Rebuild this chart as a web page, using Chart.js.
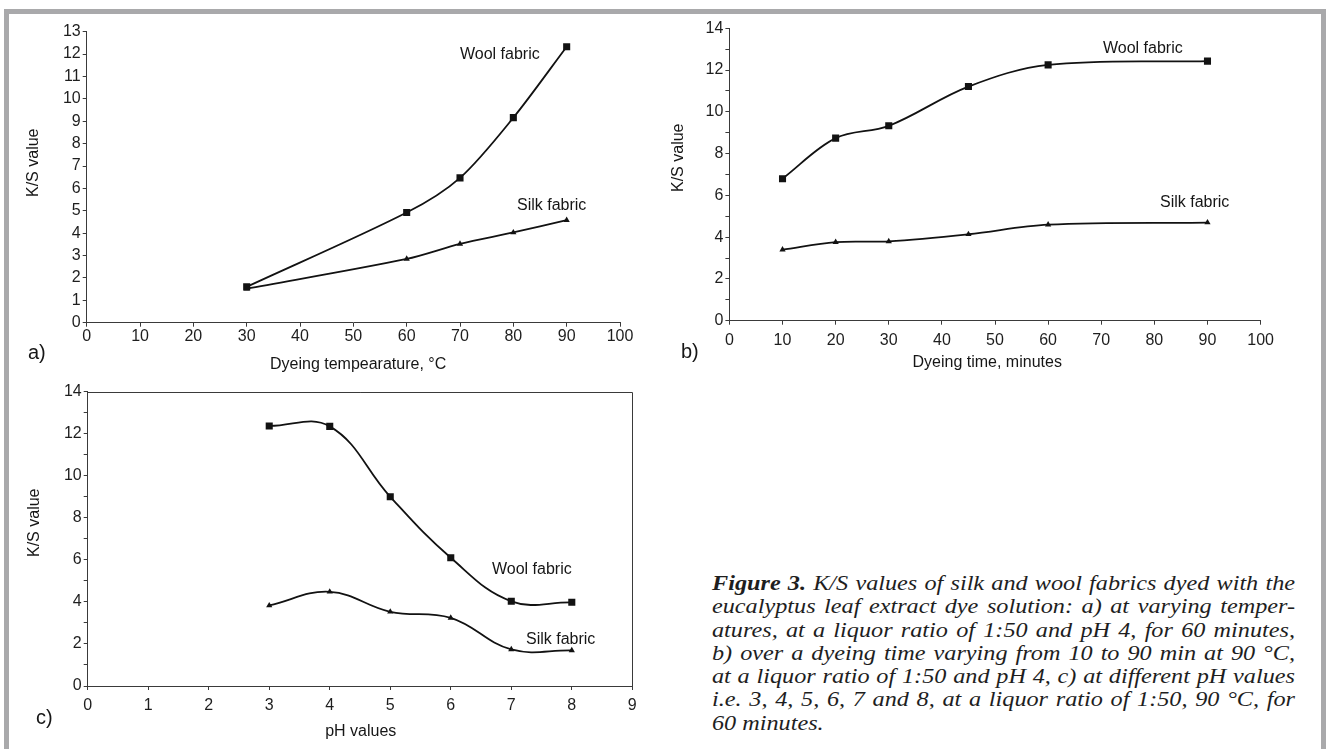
<!DOCTYPE html>
<html><head><meta charset="utf-8">
<script src="https://cdn.jsdelivr.net/npm/chart.js@4.4.1/dist/chart.umd.min.js"></script>
<style>
html,body{margin:0;padding:0;background:#fff;width:1326px;height:749px;overflow:hidden;position:relative;font-family:"Liberation Sans",Arial,sans-serif;color:#161616}
.frame{position:absolute;left:4px;top:9px;width:1312px;height:760px;border:5px solid #a9a9ab;border-bottom:none;}
canvas{position:absolute}
.t{position:absolute;white-space:nowrap;line-height:1;}
.rot{transform-origin:0 0;transform:rotate(-90deg);}
#cap{position:absolute;left:712px;top:572px;width:583px;font-family:"Liberation Serif","Times New Roman",serif;font-style:italic;font-size:20.5px;line-height:23.3px;color:#1e1e1e;transform-origin:0 0}
#cap div{text-align:justify;text-align-last:justify;white-space:nowrap}
#cap div.last{text-align-last:left}
#meas{position:absolute;left:0;top:0;visibility:hidden;font-family:"Liberation Serif","Times New Roman",serif;font-style:italic;font-size:20.5px;white-space:nowrap}
</style></head>
<body>
<div class="frame"></div>
<canvas id="ca" width="660" height="375" style="left:0;top:0;width:660px;height:375px"></canvas>
<canvas id="cb" width="666" height="375" style="left:660px;top:0;width:666px;height:375px"></canvas>
<canvas id="cc" width="660" height="374" style="left:0;top:375px;width:660px;height:374px"></canvas>
<div id="cap">
<div><b>Figure 3.</b> K/S values of silk and wool fabrics dyed with the</div>
<div>eucalyptus leaf extract dye solution: a) at varying temper-</div>
<div>atures, at a liquor ratio of 1:50 and pH 4, for 60 minutes,</div>
<div>b) over a dyeing time varying from 10 to 90 min at 90 °C,</div>
<div>at a liquor ratio of 1:50 and pH 4, c) at different pH values</div>
<div>i.e. 3, 4, 5, 6, 7 and 8, at a liquor ratio of 1:50, 90 °C, for</div>
<div class="last">60 minutes.</div>
</div>
<span id="meas"></span>
<script>
// ---- data ----
const tempX    = [30, 60, 70, 80, 90];
const tempWool = [1.6, 4.92, 6.47, 9.16, 12.33];
const tempSilk = [1.52, 2.85, 3.52, 4.03, 4.58];

const timeX    = [10, 20, 30, 45, 60, 90];
const timeWool = [6.8, 8.74, 9.33, 11.21, 12.25, 12.43];
const timeSilk = [3.4, 3.76, 3.8, 4.14, 4.6, 4.7];

const phX      = [3, 4, 5, 6, 7, 8];
const phWool   = [12.37, 12.35, 9.0, 6.1, 4.03, 3.98];
const phSilk   = [3.83, 4.48, 3.53, 3.24, 1.74, 1.69];

const seriesNames = ['Wool fabric', 'Silk fabric'];
const axisA = {xMax: 100, xStep: 10, yMax: 13, yLabelEvery: 1};
const axisB = {xMax: 100, xStep: 10, yMax: 14, yLabelEvery: 2};
const axisC = {xMax: 9,   xStep: 1,  yMax: 14, yLabelEvery: 2};

const INK = '#121212', AXIS = '#3a3a3a', TICKTXT = '#1e1e1e';
const FONT = '"Liberation Sans", Arial, sans-serif';

const framePlugin = {
  id: 'frame',
  afterDatasetsDraw(chart, args, opts) {
    if (!opts || !opts.on) return;
    const a = chart.chartArea, ctx = chart.ctx;
    ctx.save();
    ctx.strokeStyle = AXIS; ctx.lineWidth = 1;
    ctx.beginPath();
    const t = Math.round(a.top) + 0.5, r = Math.round(a.right) + 0.5;
    ctx.moveTo(a.left, t); ctx.lineTo(r, t); ctx.lineTo(r, a.bottom);
    ctx.stroke();
    ctx.restore();
  }
};

function pts(xs, ys) { return xs.map((x, i) => ({x: x, y: ys[i]})); }

function makeChart(id, xs, wool, silk, ax, lay, tension, boxed) {
  return new Chart(document.getElementById(id), {
    type: 'line',
    data: {
      datasets: [
        {label: seriesNames[0], data: pts(xs, wool), borderColor: INK, backgroundColor: INK,
         borderWidth: 1.8, pointStyle: 'rect', pointRadius: 5, pointBorderWidth: 0,
         pointBackgroundColor: INK, tension: tension, fill: false},
        {label: seriesNames[1], data: pts(xs, silk), borderColor: INK, backgroundColor: INK,
         borderWidth: 1.8, pointStyle: 'triangle', pointRadius: 3.6, pointBorderWidth: 0,
         pointBackgroundColor: INK, tension: tension, fill: false}
      ]
    },
    options: {
      responsive: false, animation: false, devicePixelRatio: 1,
      layout: {padding: {left: 0, top: lay.top, right: lay.right, bottom: lay.bottom}},
      plugins: {legend: {display: false}, tooltip: {enabled: false}, frame: {on: boxed}},
      scales: {
        x: {
          type: 'linear', min: 0, max: ax.xMax,
          afterFit: s => { s.height = 30; },
          ticks: {stepSize: ax.xStep, autoSkip: false, maxRotation: 0, color: TICKTXT,
                  font: {family: FONT, size: 16, lineHeight: 1}, padding: lay.xpad},
          grid: {drawOnChartArea: false, drawTicks: true, tickLength: 4, color: AXIS},
          border: {display: true, color: AXIS, width: 1}
        },
        y: {
          type: 'linear', min: 0, max: ax.yMax,
          afterFit: s => { s.width = lay.yw; },
          ticks: {stepSize: 1, autoSkip: false, color: TICKTXT, padding: 2,
                  font: {family: FONT, size: 16, lineHeight: 1},
                  callback: v => (v % ax.yLabelEvery === 0 ? String(v) : '')},
          grid: {drawOnChartArea: false, drawTicks: true, tickLength: 4, color: AXIS},
          border: {display: true, color: AXIS, width: 1}
        }
      }
    },
    plugins: [framePlugin]
  });
}

makeChart('ca', tempX, tempWool, tempSilk, axisA, {top: 31.7, right: 40, bottom: 22.3, yw: 86.7, xpad: 1.5}, 0.3, false);
makeChart('cb', timeX, timeWool, timeSilk, axisB, {top: 28.3, right: 65.4, bottom: 24.3, yw: 69.4, xpad: 8}, 0.35, false);
makeChart('cc', phX, phWool, phSilk, axisC, {top: 16.7, right: 27.7, bottom: 33, yw: 87.7, xpad: 8}, 0.4, true);

// ---- text annotations (page coordinates) ----
function place(text, size, x, baseline, mode) {
  const d = document.createElement('div');
  d.className = 't';
  d.textContent = text;
  d.style.fontSize = size + 'px';
  document.body.appendChild(d);
  const w = d.offsetWidth;
  const asc = 0.8465 * size;
  if (mode === 'rot') {
    d.classList.add('rot');
    d.style.left = (x - asc) + 'px';
    d.style.top = (baseline + w / 2) + 'px';
  } else {
    d.style.left = (mode === 'center' ? x - w / 2 : x) + 'px';
    d.style.top = (baseline - asc) + 'px';
  }
  return d;
}
// panel letters
place('a)', 20, 28, 359);
place('b)', 20, 681, 358);
place('c)', 20, 36, 724);
// axis titles
place('K/S value', 16, 39, 162.5, 'rot');
place('Dyeing tempearature, °C', 16, 358, 369.3, 'center');
place('K/S value', 16, 684, 158, 'rot');
place('Dyeing time, minutes', 16, 987, 368, 'center');
place('K/S value', 16, 40, 523, 'rot');
place('pH values', 16, 360.7, 737, 'center');
// series labels
place(seriesNames[0], 16, 460, 59.3);
place(seriesNames[1], 16, 517, 211);
place(seriesNames[0], 16, 1103, 54);
place(seriesNames[1], 16, 1160, 207.3);
place(seriesNames[0], 16, 492, 575);
place(seriesNames[1], 16, 526, 645);

// caption: the reference typeface is horizontally wider; stretch to fit the justified box
(function () {
  const cap = document.getElementById('cap'), meas = document.getElementById('meas');
  let maxW = 0;
  cap.querySelectorAll('div').forEach(d => {
    meas.innerHTML = d.innerHTML;
    maxW = Math.max(maxW, meas.getBoundingClientRect().width);
  });
  const target = 583;
  const k = target / (maxW + 8);
  cap.style.width = (target / k) + 'px';
  cap.style.transform = 'scaleX(' + k + ')';
})();
</script>
</body></html>
